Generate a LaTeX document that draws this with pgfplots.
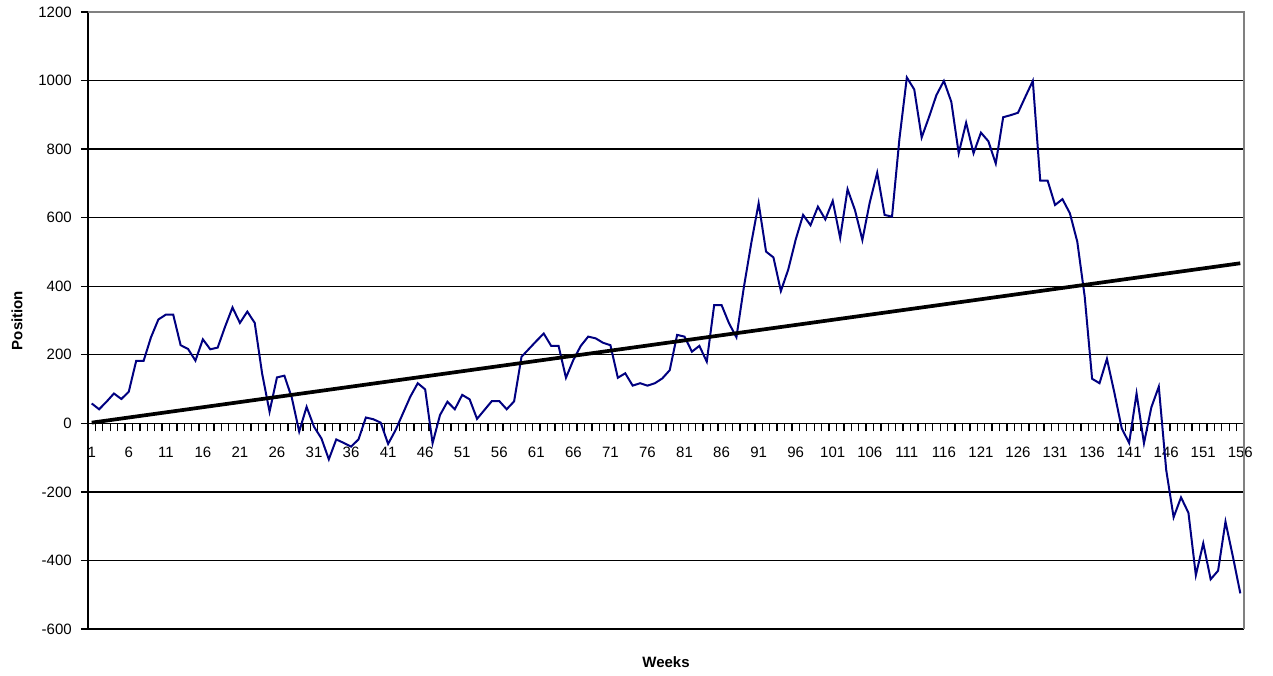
\documentclass[border=0pt]{standalone}
\usepackage{fontspec}
\setmainfont{Liberation Sans}
\usepackage{pgfplots}
\pgfplotsset{compat=1.18}
\definecolor{navyline}{RGB}{0,0,128}
\begin{document}
\fontsize{11.25pt}{13pt}\selectfont
\begin{tikzpicture}
\path[use as bounding box] (-66pt,-34.5pt) rectangle (888.75pt,471.75pt);
\begin{axis}[
  at={(0,0)}, anchor=south west,
  scale only axis, width=867pt, height=462.75pt,
  xmin=0.5, xmax=156.5, ymin=-600, ymax=1200,
  axis x line=middle, axis y line=left,
  axis line style={-, black, line width=1pt},
  tick align=outside,
  major tick length=5.25pt, minor tick length=6pt,
  tick style={black, line width=1pt},
  xtick={1,6,...,156},
  minor xtick={0.5,1.5,...,156.5},
  every major x tick/.append style={draw=none},
  ytick={-600,-400,...,1200},
  ymajorgrids,
  major grid style={black, line width=1pt},
  /pgf/number format/assume math mode=true,
  /pgf/number format/set thousands separator={},
  xticklabel style={yshift=-8.5pt},
  yticklabel style={xshift=-3pt},
  every axis y label/.style={at={(axis description cs:-0.0614,0.5)}, rotate=90, anchor=center, font=\bfseries},
  every axis x label/.style={at={(axis description cs:0.5,-0.0535)}, anchor=center, font=\bfseries},
  xlabel={Weeks}, ylabel={Position},
  clip=false,
]
\addplot[navyline, line width=1.5pt, line join=miter, mark=none] table {
x y
1 58
2 41
3 63
4 87
5 71
6 92
7 182
8 182
9 251
10 303
11 317
12 317
13 228
14 217
15 183
16 245
17 216
18 221
19 282
20 338
21 293
22 326
23 293
24 145
25 34
26 134
27 139
28 75
29 -24
30 48
31 -10
32 -44
33 -105
34 -47
35 -57
36 -68
37 -47
38 17
39 12
40 2
41 -60
42 -20
43 29
44 78
45 117
46 99
47 -58
48 24
49 63
50 41
51 83
52 70
53 13
54 39
55 65
56 65
57 41
58 64
59 194
60 217
61 240
62 262
63 226
64 226
65 133
66 185
67 226
68 253
69 248
70 235
71 228
72 133
73 146
74 110
75 117
76 110
77 117
78 131
79 155
80 258
81 253
82 209
83 226
84 180
85 345
86 345
87 292
88 251
89 396
90 525
91 642
92 501
93 484
94 386
95 449
96 536
97 608
98 578
99 632
100 595
101 649
102 541
103 683
104 622
105 535
106 645
107 731
108 608
109 603
110 830
111 1009
112 974
113 834
114 894
115 958
116 999
117 938
118 788
119 877
120 788
121 848
122 823
123 758
124 893
125 899
126 906
127 953
128 999
129 708
130 708
131 637
132 654
133 613
134 530
135 370
136 130
137 117
138 188
139 90
140 -15
141 -57
142 87
143 -58
144 47
145 107
146 -136
147 -274
148 -216
149 -261
150 -443
151 -350
152 -455
153 -430
154 -287
155 -389
156 -496
};
\addplot[black, line width=2.8pt, mark=none] coordinates {(1,2) (156,467)};
\draw[gray, line width=1.5pt] (rel axis cs:0,1) -- (rel axis cs:1,1) -- (rel axis cs:1,0);
\end{axis}
\end{tikzpicture}
\end{document}
